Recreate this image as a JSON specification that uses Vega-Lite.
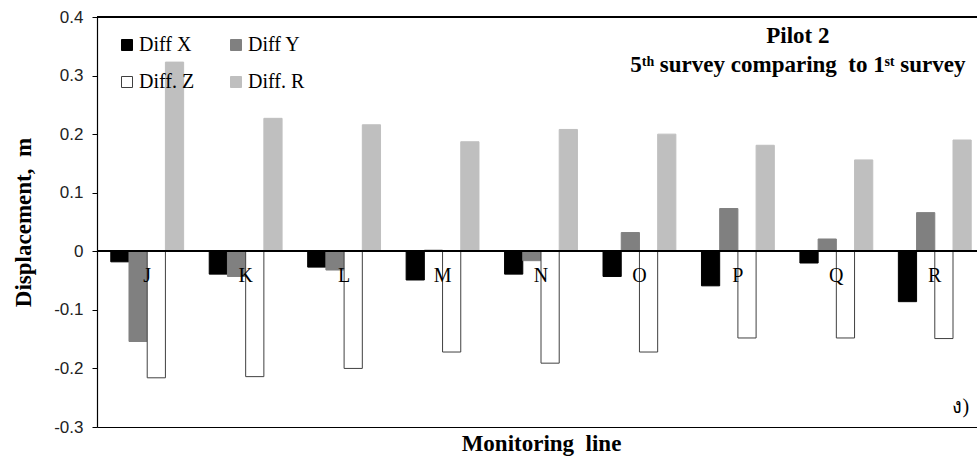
{
  "$schema": "https://vega.github.io/schema/vega-lite/v6.json",
  "autosize": {"type": "none"},
  "padding": {"left": 97, "top": 17, "right": 0, "bottom": 31},
  "width": 880,
  "height": 410,
  "background": "white",
  "config": {
    "view": {"stroke": null},
    "legend": {"labelFont": "Liberation Serif", "labelFontSize": 20, "labelColor": "#000"}
  },
  "data": {
    "values": [
      {"line": "J", "series": "Diff X", "value": -0.018},
      {"line": "J", "series": "Diff Y", "value": -0.154},
      {"line": "J", "series": "Diff. Z", "value": -0.216},
      {"line": "J", "series": "Diff. R", "value": 0.323},
      {"line": "K", "series": "Diff X", "value": -0.039},
      {"line": "K", "series": "Diff Y", "value": -0.043},
      {"line": "K", "series": "Diff. Z", "value": -0.214},
      {"line": "K", "series": "Diff. R", "value": 0.227},
      {"line": "L", "series": "Diff X", "value": -0.027},
      {"line": "L", "series": "Diff Y", "value": -0.032},
      {"line": "L", "series": "Diff. Z", "value": -0.2},
      {"line": "L", "series": "Diff. R", "value": 0.216},
      {"line": "M", "series": "Diff X", "value": -0.049},
      {"line": "M", "series": "Diff Y", "value": 0.002},
      {"line": "M", "series": "Diff. Z", "value": -0.172},
      {"line": "M", "series": "Diff. R", "value": 0.187},
      {"line": "N", "series": "Diff X", "value": -0.039},
      {"line": "N", "series": "Diff Y", "value": -0.016},
      {"line": "N", "series": "Diff. Z", "value": -0.191},
      {"line": "N", "series": "Diff. R", "value": 0.208},
      {"line": "O", "series": "Diff X", "value": -0.043},
      {"line": "O", "series": "Diff Y", "value": 0.032},
      {"line": "O", "series": "Diff. Z", "value": -0.172},
      {"line": "O", "series": "Diff. R", "value": 0.2},
      {"line": "P", "series": "Diff X", "value": -0.059},
      {"line": "P", "series": "Diff Y", "value": 0.073},
      {"line": "P", "series": "Diff. Z", "value": -0.148},
      {"line": "P", "series": "Diff. R", "value": 0.181},
      {"line": "Q", "series": "Diff X", "value": -0.02},
      {"line": "Q", "series": "Diff Y", "value": 0.021},
      {"line": "Q", "series": "Diff. Z", "value": -0.148},
      {"line": "Q", "series": "Diff. R", "value": 0.156},
      {"line": "R", "series": "Diff X", "value": -0.086},
      {"line": "R", "series": "Diff Y", "value": 0.066},
      {"line": "R", "series": "Diff. Z", "value": -0.149},
      {"line": "R", "series": "Diff. R", "value": 0.19}
    ]
  },
  "encoding": {
    "x": {
      "field": "line",
      "type": "nominal",
      "sort": ["J", "K", "L", "M", "N", "O", "P", "Q", "R"],
      "scale": {"range": [0, 888], "paddingInner": 0.26, "paddingOuter": 0.14},
      "axis": {
        "title": "Monitoring\u00a0 line",
        "titleFont": "Liberation Serif",
        "titleFontSize": 23,
        "titleFontWeight": "bold",
        "titleColor": "#000",
        "titlePadding": 5,
        "labels": false,
        "ticks": false,
        "domainColor": "#000",
        "domainWidth": 1.2,
        "grid": false
      }
    },
    "y": {
      "field": "value",
      "type": "quantitative",
      "scale": {"domain": [-0.3, 0.4], "nice": false},
      "axis": {
        "title": "Displacement,\u00a0 m",
        "titleFont": "Liberation Serif",
        "titleFontSize": 23,
        "titleFontWeight": "bold",
        "titleColor": "#000",
        "titlePadding": 18,
        "values": [-0.3, -0.2, -0.1, 0, 0.1, 0.2, 0.3, 0.4],
        "labelExpr": "'' + round(datum.value * 10) / 10",
        "labelFont": "Liberation Sans",
        "labelFontSize": 17,
        "labelColor": "#222",
        "labelPadding": 9,
        "tickSize": 5,
        "tickColor": "#000",
        "domainColor": "#000",
        "domainWidth": 1.2,
        "grid": false
      }
    }
  },
  "layer": [
    {
      "mark": {"type": "rule", "color": "#000", "strokeWidth": 1.2},
      "encoding": {"y": {"datum": 0.4}, "x": null}
    },
    {
      "mark": {"type": "bar", "strokeWidth": 1},
      "encoding": {
        "xOffset": {
          "field": "series",
          "type": "nominal",
          "sort": ["Diff X", "Diff Y", "Diff. Z", "Diff. R"],
          "scale": {"paddingInner": 0, "paddingOuter": 0}
        },
        "color": {
          "field": "series",
          "type": "nominal",
          "sort": ["Diff X", "Diff Y", "Diff. Z", "Diff. R"],
          "scale": {"domain": ["Diff X", "Diff Y", "Diff. Z", "Diff. R"], "range": ["#000000", "#808080", "#ffffff", "#bfbfbf"]},
          "legend": {
            "title": null,
            "orient": "none",
            "legendX": 20,
            "legendY": 18,
            "direction": "horizontal",
            "columns": 2,
            "columnPadding": 31,
            "rowPadding": 17,
            "symbolType": "square",
            "symbolSize": 121,
            "symbolStrokeWidth": 1,
            "labelFont": "Liberation Serif",
            "labelFontSize": 20,
            "labelColor": "#000",
            "labelOffset": 2,
            "encode": {"labels": {"update": {"font": {"value": "Liberation Serif"}, "fontSize": {"value": 20}, "fill": {"value": "#000"}}}}
          }
        },
        "stroke": {
          "field": "series",
          "type": "nominal",
          "sort": ["Diff X", "Diff Y", "Diff. Z", "Diff. R"],
          "scale": {"domain": ["Diff X", "Diff Y", "Diff. Z", "Diff. R"], "range": ["#000000", "#808080", "#404040", "#bfbfbf"]},
          "legend": {
            "title": null,
            "orient": "none",
            "legendX": 20,
            "legendY": 18,
            "direction": "horizontal",
            "columns": 2,
            "columnPadding": 31,
            "rowPadding": 17,
            "symbolType": "square",
            "symbolSize": 121,
            "symbolStrokeWidth": 1,
            "labelFont": "Liberation Serif",
            "labelFontSize": 20,
            "labelColor": "#000",
            "labelOffset": 2,
            "encode": {"labels": {"update": {"font": {"value": "Liberation Serif"}, "fontSize": {"value": 20}, "fill": {"value": "#000"}}}}
          }
        }
      }
    },
    {
      "mark": {"type": "rule", "color": "#000", "strokeWidth": 1.2},
      "encoding": {"y": {"datum": 0}, "x": null}
    },
    {
      "transform": [{"filter": "datum.series == 'Diff X'"}],
      "mark": {"type": "text", "font": "Liberation Serif", "fontSize": 20, "color": "#000", "baseline": "middle", "dy": 25},
      "encoding": {"text": {"field": "line"}, "y": {"datum": 0}}
    },
    {
      "transform": [{"filter": "datum.series == 'Diff X' && datum.line == 'P'"}],
      "mark": {"type": "text", "font": "Liberation Serif", "fontSize": 23, "fontWeight": "bold", "color": "#000", "baseline": "middle", "dx": 60},
      "encoding": {"text": {"value": "Pilot 2"}, "y": {"datum": 0.367}}
    },
    {
      "transform": [{"filter": "datum.series == 'Diff X' && datum.line == 'P'"}],
      "mark": {"type": "text", "font": "Liberation Serif", "fontSize": 23, "fontWeight": "bold", "color": "#000", "baseline": "middle", "dx": 60},
      "encoding": {"text": {"value": "5ᵗʰ survey comparing\u00a0 to 1ˢᵗ survey"}, "y": {"datum": 0.318}}
    },
    {
      "transform": [{"filter": "datum.series == 'Diff X' && datum.line == 'R'"}],
      "mark": {"type": "text", "font": "Liberation Serif", "fontSize": 20, "color": "#000", "baseline": "middle", "dx": 26},
      "encoding": {"text": {"value": "ง)"}, "y": {"datum": -0.266}}
    }
  ]
}
